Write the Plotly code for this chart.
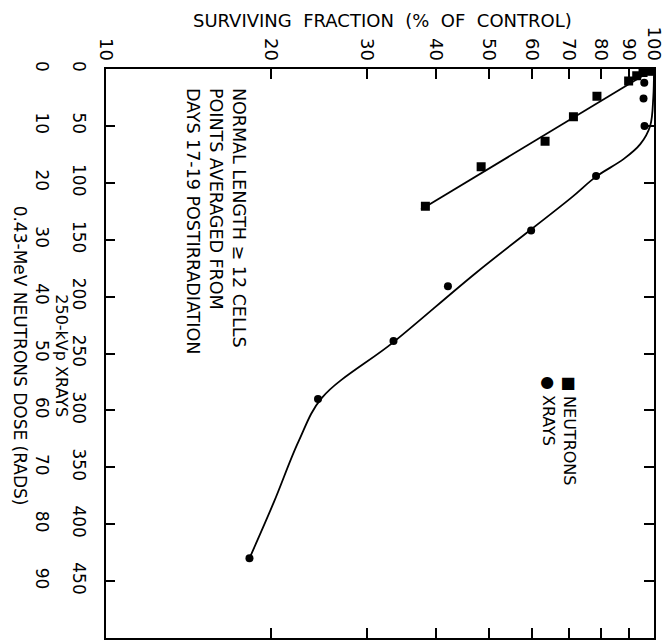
import plotly.graph_objects as go

# ---- measured points -------------------------------------------------------
# 250-kVp X rays: dose (rads) and surviving fraction (% of control)
xray_dose = [12, 26, 50, 94, 142, 191, 239, 290, 430]
xray_surv = [96.0, 95.7, 96.1, 78.4, 59.7, 42.1, 33.5, 24.4, 18.3]

# 0.43-MeV neutrons: dose (rads) and surviving fraction (% of control)
neutron_dose = [0.3, 0.4, 0.6, 1.2, 2.1, 4.8, 8.4, 12.7, 17.2, 24.1]
neutron_surv = [99.6, 97.8, 95.5, 93.0, 89.9, 78.7, 71.3, 63.3, 48.4, 38.3]

# ---- fitted curves ---------------------------------------------------------
xray_fit_dose = [0, 25, 50, 66, 79, 95, 113, 179, 240, 289, 327, 380, 430]
xray_fit_surv = [100, 99.7, 98.4, 94.4, 88.1, 78.2, 70.7, 47.4, 33.5, 24.8, 22.5, 20.3, 18.3]

neutron_fit_dose = [0, 24.7]
neutron_fit_surv = [100, 37.6]

# ---- axis ticks ------------------------------------------------------------
surv_ticks = [10, 20, 30, 40, 50, 60, 70, 80, 90, 100]
xray_ticks = [0, 50, 100, 150, 200, 250, 300, 350, 400, 450]
neutron_ticks = [0, 10, 20, 30, 40, 50, 60, 70, 80, 90]

FONT = "DejaVu Sans"
W, H = 670, 640
L, R, T, B = 0, 16, 69, 1
PW = W - L - R          # paper width in px
PH = H - T - B          # paper height in px
PLOT_LEFT = 97          # left edge of the plotting frame, px


def px(xp):
    return (xp - L) / PW


def py(yp):
    return (H - B - yp) / PH


fig = go.Figure()

fig.add_trace(go.Scatter(
    x=xray_fit_surv, y=xray_fit_dose, mode="lines",
    line=dict(color="black", width=1.8, shape="spline", smoothing=1.0),
    yaxis="y", hoverinfo="skip", showlegend=False))
fig.add_trace(go.Scatter(
    x=xray_surv, y=xray_dose, mode="markers",
    marker=dict(symbol="circle", size=8, color="black"),
    yaxis="y", name="XRAYS", showlegend=False))

fig.add_trace(go.Scatter(
    x=neutron_fit_surv, y=neutron_fit_dose, mode="lines",
    line=dict(color="black", width=1.8),
    yaxis="y2", hoverinfo="skip", showlegend=False))
fig.add_trace(go.Scatter(
    x=neutron_surv, y=neutron_dose, mode="markers",
    marker=dict(symbol="square", size=9, color="black"),
    yaxis="y2", name="NEUTRONS", showlegend=False))

xray_max = 500

fig.update_layout(
    width=W, height=H,
    margin=dict(l=L, r=R, t=T, b=B),
    paper_bgcolor="white", plot_bgcolor="white",
    font=dict(family=FONT, color="black"),
    xaxis=dict(
        type="log", range=[1, 2], side="top",
        domain=[px(PLOT_LEFT), 1],
        tickvals=surv_ticks, ticktext=[str(v) for v in surv_ticks],
        tickangle=90, tickfont=dict(size=18),
        ticks="inside", ticklen=10, tickwidth=1.5, tickcolor="black",
        showline=True, linecolor="black", linewidth=1.5, mirror="ticks",
        showgrid=False, zeroline=False,
    ),
    yaxis=dict(
        range=[xray_max, 0], anchor="x",
        tickvals=xray_ticks, ticktext=[str(v) for v in xray_ticks],
        tickangle=90, tickfont=dict(size=17),
        ticks="inside", ticklen=10, tickwidth=1.5, tickcolor="black",
        ticklabelstandoff=10,
        showline=True, linecolor="black", linewidth=1.5, mirror="ticks",
        showgrid=False, zeroline=False,
    ),
    yaxis2=dict(
        range=[xray_max / 5, 0], overlaying="y", anchor="free",
        position=px(44), side="left",
        tickvals=neutron_ticks, ticktext=[str(v) for v in neutron_ticks],
        tickangle=90, tickfont=dict(size=17),
        ticks="", showline=False, showgrid=False, zeroline=False,
    ),
)

annotations = [
    dict(text="SURVIVING  FRACTION  (%  OF  CONTROL)",
         x=px(378), y=py(20), textangle=0, font=dict(size=18)),
    dict(text="0.43-MeV NEUTRONS DOSE (RADS)",
         x=px(10), y=py(356), textangle=90, font=dict(size=17)),
    dict(text="250-kVp XRAYS",
         x=px(52), y=py(356), textangle=90, font=dict(size=16)),
    dict(text="NORMAL LENGTH \u2265 12 CELLS<br>POINTS AVERAGED FROM<br>DAYS 17-19 POSTIRRADIATION",
         x=px(209), y=py(221), textangle=90, align="left", font=dict(size=17.5)),
    dict(text="\u25a0 NEUTRONS<br>\u25cf XRAYS",
         x=px(557), y=py(432), textangle=90, align="left", font=dict(size=16)),
]
for a in annotations:
    a.update(xref="paper", yref="paper", showarrow=False,
             xanchor="center", yanchor="middle")
fig.update_layout(annotations=annotations)

fig.write_html("out.html")
